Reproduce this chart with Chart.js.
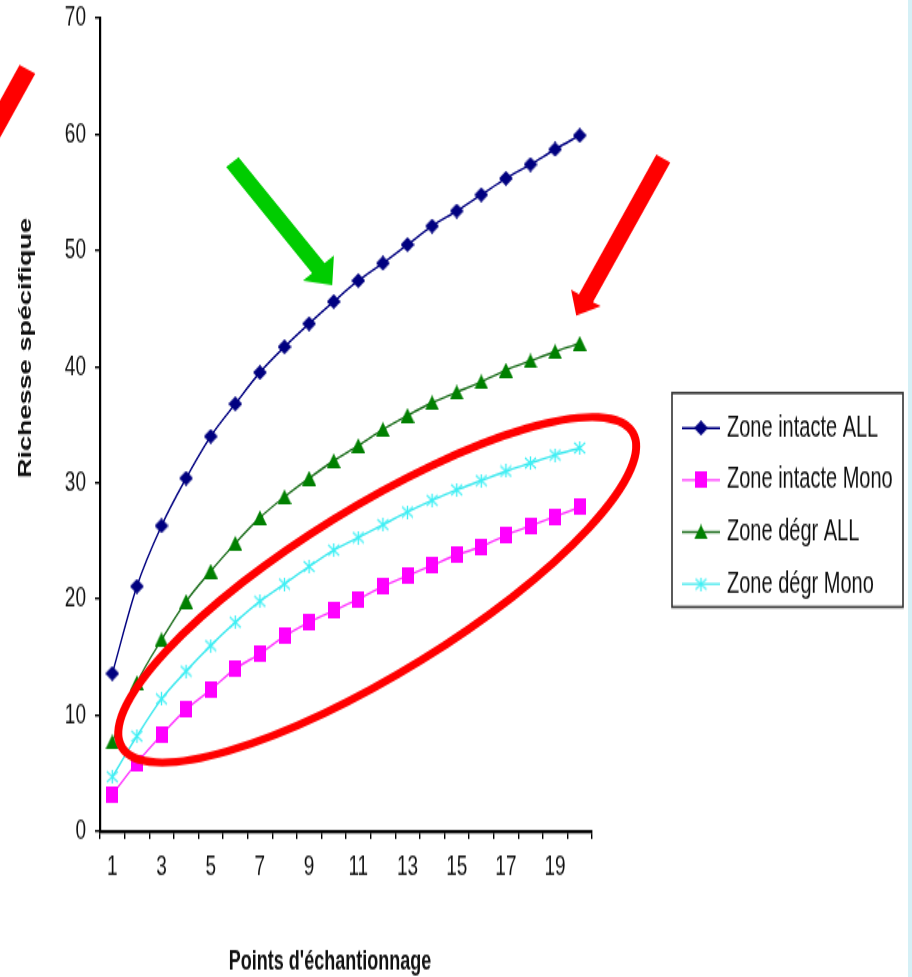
<!DOCTYPE html>
<html>
<head>
<meta charset="utf-8">
<script src="https://cdn.jsdelivr.net/npm/chart.js@4.4.1/dist/chart.umd.min.js"></script>
<style>
  body { margin: 0; background: #fff; overflow: hidden; }
  /* the source picture is stretched vertically, so draw squeezed and stretch back */
  #wrap { position: absolute; left: 0; top: 0; width: 912px; height: 651px; transform: scaleY(1.5008); transform-origin: 0 0; }
  #edge { position: absolute; right: 0; top: 0; width: 4px; height: 977px; background: #d5f0f6; }
</style>
</head>
<body>
<div id="wrap"><canvas id="myChart" width="912" height="651" style="width:912px;height:651px"></canvas></div>
<div id="edge"></div>
<script>
const S = 1.5008; // vertical stretch

const points = ['1', '2', '3', '4', '5', '6', '7', '8', '9', '10',
    '11', '12', '13', '14', '15', '16', '17', '18', '19', '20'];

const intacteAll = [13.6, 21.1, 26.3, 30.4, 34.0, 36.8, 39.5, 41.7, 43.7, 45.6,
    47.4, 48.9, 50.5, 52.1, 53.4, 54.8, 56.2, 57.4, 58.7, 59.9];
const intacteMono = [3.2, 5.9, 8.3, 10.5, 12.2, 14.0, 15.3, 16.8, 18.0, 19.0,
    20.0, 21.1, 22.0, 22.9, 23.8, 24.5, 25.5, 26.3, 27.1, 27.9];
const degrAll = [7.7, 12.8, 16.5, 19.8, 22.4, 24.8, 27.0, 28.8, 30.4, 31.9,
    33.2, 34.6, 35.8, 36.9, 37.8, 38.7, 39.7, 40.5, 41.3, 42.0];
const degrMono = [4.7, 8.2, 11.4, 13.8, 16.0, 18.0, 19.8, 21.3, 22.8, 24.2,
    25.3, 26.4, 27.5, 28.5, 29.4, 30.2, 31.0, 31.7, 32.4, 33.0];

const seriesNames = ['Zone intacte ALL', 'Zone intacte Mono', 'Zone dégr ALL', 'Zone dégr Mono'];
const yTitle = 'Richesse spécifique';
const xTitle = "Points d'échantionnage";

// annotations (category index, value)
const greenArrow = { from: [4.88, 57.6], to: [8.94, 47.0] };
const redArrow = { from: [22.4, 57.9], to: [18.86, 44.4] };
const redArrowLeft = { from: [-3.45, 65.6], to: [-7.03, 51.8] };
const ellipse = { center: [10.77, 20.8], rx: 300, ry: 83, angle: -31.7 };

// little marker images, drawn squeezed so that they come out right after the stretch
function marker(w, h, draw) {
    const c = document.createElement('canvas');
    c.width = w;
    c.height = h;
    draw(c.getContext('2d'), w, h);
    return c;
}

const diamond = marker(14, 10, (ctx, w, h) => {
    ctx.fillStyle = '#000080';
    ctx.beginPath();
    ctx.moveTo(w / 2, 0); ctx.lineTo(w, h / 2); ctx.lineTo(w / 2, h); ctx.lineTo(0, h / 2);
    ctx.closePath();
    ctx.fill();
});
const square = marker(12, 11, (ctx, w, h) => {
    ctx.fillStyle = '#ff00ff';
    ctx.fillRect(0, 0, w, h);
});
const triangle = marker(14, 10, (ctx, w, h) => {
    ctx.fillStyle = '#008000';
    ctx.beginPath();
    ctx.moveTo(w / 2, 0); ctx.lineTo(w, h); ctx.lineTo(0, h);
    ctx.closePath();
    ctx.fill();
});
const star = marker(13, 9, (ctx, w, h) => {
    ctx.strokeStyle = '#3ff0f5';
    ctx.lineWidth = 1.4;
    ctx.beginPath();
    ctx.moveTo(1, 1); ctx.lineTo(w - 1, h - 1);
    ctx.moveTo(w - 1, 1); ctx.lineTo(1, h - 1);
    ctx.moveTo(w / 2, 0); ctx.lineTo(w / 2, h);
    ctx.stroke();
});

function dataset(label, data, color, style) {
    return {
        label: label,
        data: data,
        borderColor: color,
        backgroundColor: color,
        borderWidth: 1.4,
        pointStyle: style,
        pointRadius: 6,
        cubicInterpolationMode: 'monotone',
    };
}

function drawArrow(ctx, a, b, w, hl, hw, color) {
    const dx = b[0] - a[0], dy = b[1] - a[1];
    const len = Math.hypot(dx, dy);
    const ux = dx / len, uy = dy / len;
    const nx = -uy, ny = ux;
    const bx = b[0] - ux * hl, by = b[1] - uy * hl;
    ctx.fillStyle = color;
    ctx.beginPath();
    ctx.moveTo(a[0] + nx * w / 2, a[1] + ny * w / 2);
    ctx.lineTo(bx + nx * w / 2, by + ny * w / 2);
    ctx.lineTo(bx + nx * hw, by + ny * hw);
    ctx.lineTo(b[0], b[1]);
    ctx.lineTo(bx - nx * hw, by - ny * hw);
    ctx.lineTo(bx - nx * w / 2, by - ny * w / 2);
    ctx.lineTo(a[0] - nx * w / 2, a[1] - ny * w / 2);
    ctx.closePath();
    ctx.fill();
}

const extras = {
    id: 'extras',
    afterDraw(chart) {
        const ctx = chart.ctx;
        const x = chart.scales.x, y = chart.scales.y;

        // axis titles
        ctx.save();
        ctx.fillStyle = '#111';
        ctx.font = 'bold 18px "Liberation Sans", Arial, sans-serif';
        ctx.textAlign = 'center';
        ctx.textBaseline = 'middle';
        ctx.fillText(xTitle, 330, 962 / S);
        ctx.translate(26, 348 / S);
        ctx.rotate(-Math.PI / 2);
        ctx.fillText(yTitle, 0, 0);
        ctx.restore();

        // legend box
        ctx.save();
        ctx.strokeStyle = '#333';
        ctx.lineWidth = 1.6;
        ctx.strokeRect(672, 393 / S, 231, 214 / S);
        ctx.font = '20px "Liberation Sans", Arial, sans-serif';
        ctx.textBaseline = 'middle';
        ctx.textAlign = 'left';
        chart.data.datasets.forEach((ds, i) => {
            const ly = (428 + i * 52) / S;
            ctx.strokeStyle = ds.borderColor;
            ctx.lineWidth = 1.4;
            ctx.beginPath();
            ctx.moveTo(682, ly);
            ctx.lineTo(720, ly);
            ctx.stroke();
            const m = ds.pointStyle;
            ctx.drawImage(m, 701 - m.width / 2, ly - m.height / 2);
            ctx.fillStyle = '#111';
            ctx.fillText(ds.label, 727, ly);
        });
        ctx.restore();

        // annotations, drawn in screen space
        ctx.save();
        ctx.scale(1, 1 / S);
        const P = (p) => [x.getPixelForValue(p[0]), y.getPixelForValue(p[1]) * S];
        const c = P(ellipse.center);
        ctx.strokeStyle = '#ff0000';
        ctx.lineWidth = 8;
        ctx.beginPath();
        ctx.ellipse(c[0], c[1], ellipse.rx, ellipse.ry, ellipse.angle * Math.PI / 180, 0, Math.PI * 2);
        ctx.stroke();
        drawArrow(ctx, P(greenArrow.from), P(greenArrow.to), 16, 22, 20, '#00cc00');
        drawArrow(ctx, P(redArrow.from), P(redArrow.to), 16, 20, 17, '#ff0000');
        drawArrow(ctx, P(redArrowLeft.from), P(redArrowLeft.to), 18, 22, 20, '#ff0000');
        ctx.restore();
    }
};

const tickFont = { family: '"Liberation Sans", Arial, sans-serif', size: 19 };

const myChart = new Chart(
    document.getElementById('myChart'), {
        type: 'line',
        data: {
            labels: points,
            datasets: [
                dataset(seriesNames[0], intacteAll, '#000080', diamond),
                dataset(seriesNames[1], intacteMono, '#ff33ff', square),
                dataset(seriesNames[2], degrAll, '#1f6f1f', triangle),
                dataset(seriesNames[3], degrMono, '#3fe8ee', star),
            ]
        },
        options: {
            responsive: false,
            animation: false,
            events: [],
            layout: { padding: { top: 12, right: 320, bottom: 0, left: 0 } },
            plugins: {
                legend: { display: false },
                tooltip: { enabled: false },
            },
            scales: {
                x: {
                    offset: true,
                    grid: { offset: true, drawOnChartArea: false, color: '#000', tickLength: 5, lineWidth: 1.4 },
                    border: { color: '#000', width: 2.2 },
                    ticks: {
                        autoSkip: false,
                        maxRotation: 0,
                        padding: 7,
                        color: '#111',
                        font: tickFont,
                        callback: (v, i) => i % 2 === 0 ? points[i] : '',
                    },
                    afterFit: (s) => { s.height = 97; },
                },
                y: {
                    min: 0,
                    max: 70,
                    grid: { drawOnChartArea: false, color: '#000', tickLength: 5, lineWidth: 1.4 },
                    border: { color: '#000', width: 2.2 },
                    ticks: { stepSize: 10, padding: 9, color: '#111', font: tickFont },
                    afterFit: (s) => { s.width = 100; s.paddingTop = 0; s.paddingBottom = 0; },
                },
            },
        },
        plugins: [extras],
    }
);
</script>
</body>
</html>
